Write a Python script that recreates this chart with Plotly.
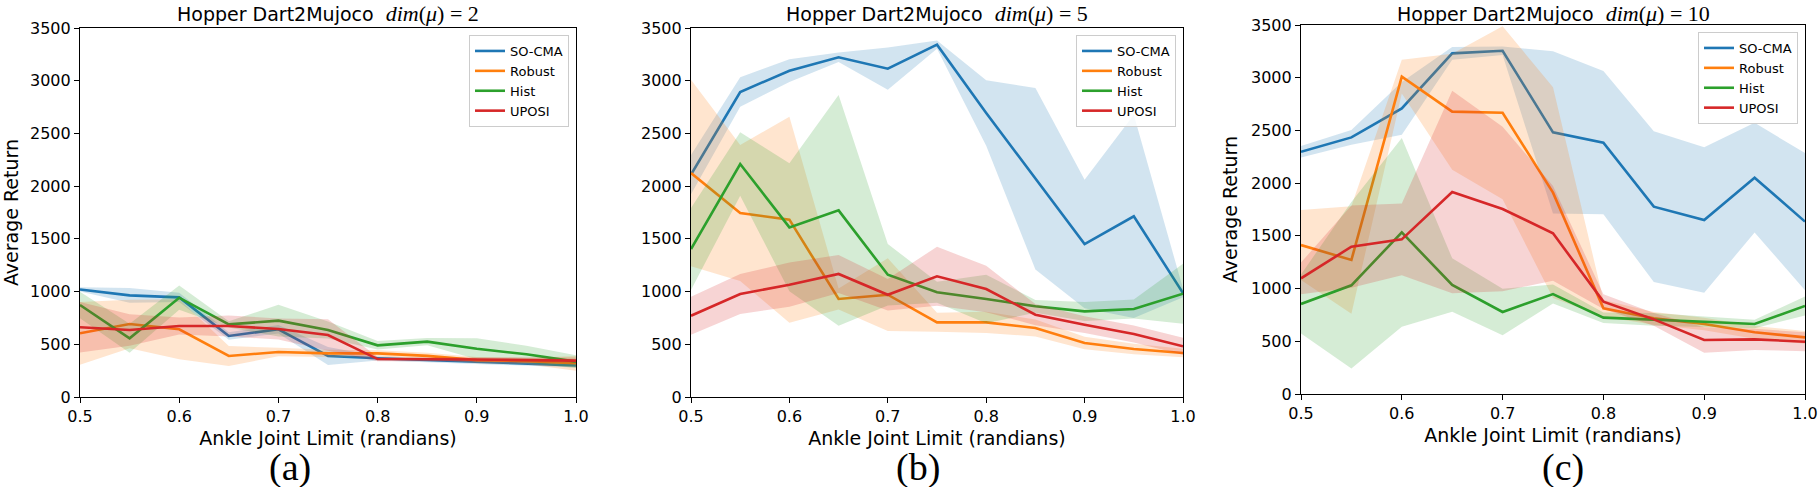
import numpy as np
import plotly.graph_objects as go

# ankle joint limits (x axis), shared by all three panels
x_vals = [0.5, 0.55, 0.6, 0.65, 0.7, 0.75, 0.8, 0.85, 0.9, 0.95, 1.0]
methods = ["SO-CMA", "Robust", "Hist", "UPOSI"]
colors = ["#1f77b4", "#ff7f0e", "#2ca02c", "#d62728"]
fills = ["rgba(31,119,180,0.2)", "rgba(255,127,14,0.2)",
         "rgba(44,160,44,0.2)", "rgba(214,39,40,0.2)"]

# (a) dim(mu) = 2 : mean return and std
a_socma = [1020, 964, 945, 579, 642, 389, 367, 350, 335, 320, 300]
a_socma_sd = [20, 70, 45, 35, 40, 85, 20, 20, 20, 25, 20]
a_robust = [604, 692, 642, 389, 427, 414, 414, 390, 350, 340, 320]
a_robust_sd = [297, 230, 285, 95, 40, 35, 30, 30, 30, 30, 70]
a_hist = [873, 557, 942, 689, 724, 635, 490, 525, 458, 405, 335]
a_hist_sd = [125, 137, 115, 30, 150, 80, 40, 35, 100, 80, 60]
a_uposi = [661, 635, 673, 673, 645, 588, 360, 360, 355, 350, 345]
a_uposi_sd = [240, 150, 80, 100, 100, 150, 20, 20, 25, 25, 30]

# (b) dim(mu) = 5
b_socma = [2109, 2893, 3095, 3222, 3114, 3342, 2694, 2070, 1451, 1714, 986]
b_socma_sd = [186, 140, 108, 45, 200, 40, 310, 860, 610, 964, 40]
b_robust = [2125, 1745, 1682, 930, 970, 708, 708, 654, 512, 455, 417]
b_robust_sd = [885, 645, 977, 100, 345, 90, 100, 80, 60, 50, 40]
b_hist = [1404, 2210, 1609, 1770, 1160, 993, 930, 860, 812, 835, 980]
b_hist_sd = [389, 300, 607, 1094, 291, 100, 230, 60, 90, 90, 285]
b_uposi = [771, 977, 1065, 1167, 970, 1145, 1024, 781, 686, 598, 481]
b_uposi_sd = [180, 190, 210, 180, 150, 280, 220, 100, 80, 80, 80]

# (c) dim(mu) = 10
c_socma = [2298, 2434, 2709, 3231, 3256, 2482, 2384, 1777, 1650, 2052, 1635]
c_socma_sd = [55, 70, 250, 60, 40, 770, 680, 715, 690, 520, 650]
c_robust = [1413, 1271, 3010, 2678, 2668, 1910, 812, 718, 664, 585, 537]
c_robust_sd = [332, 510, 160, 550, 820, 1000, 80, 60, 60, 60, 60]
c_hist = [854, 1031, 1533, 1034, 778, 948, 724, 708, 686, 664, 835]
c_hist_sd = [280, 790, 895, 253, 220, 90, 50, 60, 50, 40, 90]
c_uposi = [1097, 1397, 1467, 1916, 1755, 1524, 876, 708, 512, 518, 496]
c_uposi_sd = [150, 390, 340, 960, 780, 450, 70, 60, 120, 100, 90]

panels = [
    ("2", [(a_socma, a_socma_sd), (a_robust, a_robust_sd), (a_hist, a_hist_sd), (a_uposi, a_uposi_sd)]),
    ("5", [(b_socma, b_socma_sd), (b_robust, b_robust_sd), (b_hist, b_hist_sd), (b_uposi, b_uposi_sd)]),
    ("10", [(c_socma, c_socma_sd), (c_robust, c_robust_sd), (c_hist, c_hist_sd), (c_uposi, c_uposi_sd)]),
]
captions = ["(a)", "(b)", "(c)"]

W, H = 1819, 487
# plot boxes in pixels: left, right, top, bottom
boxes = [(80, 576, 28, 397), (691, 1183, 28, 397), (1301, 1805, 25, 394)]
legend_pos = [(569, 35), (1176, 35), (1798, 32)]
caption_x = [290, 918, 1563]

fig = go.Figure()
xs = np.array(x_vals)

for i, (dim, series) in enumerate(panels):
    ax = "" if i == 0 else str(i + 1)
    leg = "legend" if i == 0 else "legend" + str(i + 1)
    for j, (mean, sd) in enumerate(series):
        m = np.array(mean, dtype=float)
        s = np.array(sd, dtype=float)
        fig.add_trace(go.Scatter(x=xs, y=m, mode="lines", name=methods[j],
                                 line=dict(color=colors[j], width=2.6),
                                 xaxis="x" + ax, yaxis="y" + ax, legend=leg))
        fig.add_trace(go.Scatter(x=np.concatenate([xs, xs[::-1]]),
                                 y=np.concatenate([m + s, (m - s)[::-1]]),
                                 fill="toself", fillcolor=fills[j], mode="lines",
                                 line=dict(width=0), hoverinfo="skip", showlegend=False,
                                 xaxis="x" + ax, yaxis="y" + ax))

    l, r, t, b = boxes[i]
    xdom = [l / W, r / W]
    ydom = [1 - b / H, 1 - t / H]
    axis_style = dict(showline=True, mirror=True, linecolor="black", linewidth=1.2,
                      ticks="outside", ticklen=5, tickwidth=1.2, tickcolor="black",
                      showgrid=False, zeroline=False, automargin=False,
                      tickfont=dict(family="DejaVu Sans", size=16, color="black"))
    fig.update_layout({
        "xaxis" + ax: dict(domain=xdom, range=[0.5, 1.0], tickvals=x_vals[::2],
                           tickformat=".1f", anchor="y" + ax,
                           title=dict(text="Ankle Joint Limit (randians)", standoff=6,
                                      font=dict(family="DejaVu Sans", size=19, color="black")),
                           **axis_style),
        "yaxis" + ax: dict(domain=ydom, range=[0, 3500], dtick=500, anchor="x" + ax,
                           title=dict(text="Average Return" if i != 1 else "", standoff=8,
                                      font=dict(family="DejaVu Sans", size=19, color="black")),
                           **axis_style),
        leg: dict(x=legend_pos[i][0] / W, y=1 - legend_pos[i][1] / H,
                  xanchor="right", yanchor="top",
                  font=dict(family="DejaVu Sans", size=13, color="black"),
                  bordercolor="#cccccc", borderwidth=1, bgcolor="rgba(255,255,255,0.8)",
                  itemwidth=30, tracegroupgap=0),
    })

    title = ("Hopper Dart2Mujoco  <span style='font-family:Liberation Serif;font-size:22px'>"
             "<i>dim</i>(<i>μ</i>) = " + dim + "</span>")
    fig.add_annotation(text=title, xref="paper", yref="paper",
                       x=(l + r) / 2 / W, y=1 - 13 / H, xanchor="center", yanchor="middle",
                       showarrow=False, font=dict(family="DejaVu Sans", size=19, color="black"))
    fig.add_annotation(text=captions[i], xref="paper", yref="paper",
                       x=caption_x[i] / W, y=1 - 467 / H, xanchor="center", yanchor="middle",
                       showarrow=False, font=dict(family="Liberation Serif", size=38, color="black"))

fig.update_layout(width=W, height=H, margin=dict(l=0, r=0, t=0, b=0),
                  plot_bgcolor="white", paper_bgcolor="white")

fig.write_html("out.html", config={"displayModeBar": False},
               post_script="document.body.style.margin = '0';")
